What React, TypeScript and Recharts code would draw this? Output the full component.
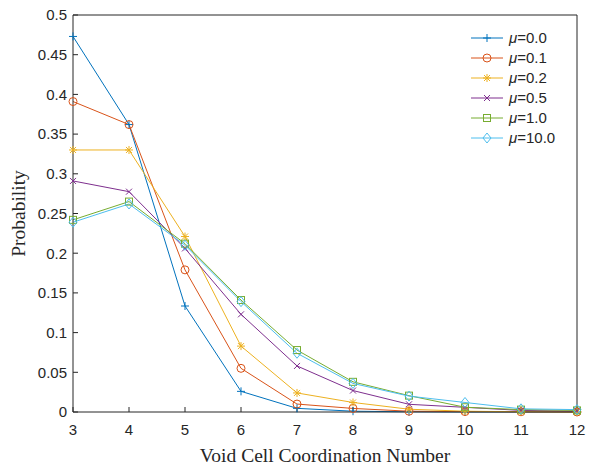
import React from "react";
import {
  LineChart,
  Line,
  XAxis,
  YAxis,
  Legend,
} from "recharts";

const coordNumbers = [3, 4, 5, 6, 7, 8, 9, 10, 11, 12];
const mu00 = [0.473, 0.362, 0.1335, 0.026, 0.0046, 0.001, 0.0003, 0, 0, 0];
const mu01 = [0.391, 0.362, 0.179, 0.055, 0.01, 0.0045, 0.001, 0.0005, 0.0003, 0];
const mu02 = [0.33, 0.33, 0.221, 0.083, 0.024, 0.012, 0.0035, 0.001, 0.0003, 0];
const mu05 = [0.291, 0.2775, 0.206, 0.123, 0.058, 0.027, 0.0097, 0.0059, 0.002, 0.001];
const mu10 = [0.242, 0.265, 0.212, 0.141, 0.078, 0.038, 0.0206, 0.006, 0.003, 0.002];
const mu100 = [0.239, 0.262, 0.21, 0.139, 0.074, 0.036, 0.02, 0.012, 0.004, 0.003];

const yTicks = [0, 0.05, 0.1, 0.15, 0.2, 0.25, 0.3, 0.35, 0.4, 0.45, 0.5];

const series = [
  { key: "m00", label: "0.0", values: mu00, color: "#0072BD", marker: "plus" },
  { key: "m01", label: "0.1", values: mu01, color: "#D95319", marker: "circle" },
  { key: "m02", label: "0.2", values: mu02, color: "#EDB120", marker: "star" },
  { key: "m05", label: "0.5", values: mu05, color: "#7E2F8E", marker: "cross" },
  { key: "m10", label: "1.0", values: mu10, color: "#77AC30", marker: "square" },
  { key: "m100", label: "10.0", values: mu100, color: "#4DBEEE", marker: "diamond" },
];

const data = coordNumbers.map((n, i) => {
  const row: Record<string, number> = { n };
  series.forEach((s) => (row[s.key] = s.values[i]));
  return row;
});

const axisColor = "#262626";
const tickFont = { fontSize: 15, fill: axisColor, fontFamily: "Liberation Sans, Arial, sans-serif" };
const serif = "Liberation Serif, Times New Roman, serif";

function Marker({ kind, cx, cy, color }: { kind: string; cx: number; cy: number; color: string }) {
  const s = 4;
  const p = { stroke: color, strokeWidth: 1, fill: "none" };
  if (kind === "plus")
    return (
      <g {...p}>
        <line x1={cx - s} y1={cy} x2={cx + s} y2={cy} />
        <line x1={cx} y1={cy - s} x2={cx} y2={cy + s} />
      </g>
    );
  if (kind === "circle") return <circle cx={cx} cy={cy} r={s} {...p} />;
  if (kind === "cross")
    return (
      <g {...p}>
        <line x1={cx - 3} y1={cy - 3} x2={cx + 3} y2={cy + 3} />
        <line x1={cx - 3} y1={cy + 3} x2={cx + 3} y2={cy - 3} />
      </g>
    );
  if (kind === "star")
    return (
      <g {...p}>
        <line x1={cx - s} y1={cy} x2={cx + s} y2={cy} />
        <line x1={cx} y1={cy - s} x2={cx} y2={cy + s} />
        <line x1={cx - 3} y1={cy - 3} x2={cx + 3} y2={cy + 3} />
        <line x1={cx - 3} y1={cy + 3} x2={cx + 3} y2={cy - 3} />
      </g>
    );
  if (kind === "square") return <rect x={cx - 3.5} y={cy - 3.5} width={7} height={7} {...p} />;
  return <polygon points={`${cx},${cy - 5} ${cx + 4},${cy} ${cx},${cy + 5} ${cx - 4},${cy}`} {...p} />;
}

function LegendBox() {
  return (
    <svg width={120} height={122}>
      {series.map((s, i) => {
        const y = 10 + i * 20;
        return (
          <g key={s.key}>
            <line x1={3} y1={y} x2={35} y2={y} stroke={s.color} strokeWidth={1} />
            <Marker kind={s.marker} cx={19} cy={y} color={s.color} />
            <text x={41} y={y + 5} fontSize={15} fill={axisColor} fontFamily="Liberation Sans, Arial, sans-serif">
              <tspan fontStyle="italic">μ</tspan>={s.label}
            </text>
          </g>
        );
      })}
    </svg>
  );
}

export default function App() {
  return (
    <div style={{ position: "absolute", left: 0, top: 0, width: 589, height: 468, background: "#fff" }}>
      <LineChart width={589} height={468} data={data} margin={{ top: 14, right: 11, left: 0, bottom: 0 }}>
        <XAxis
          dataKey="n"
          type="number"
          domain={[3, 12]}
          ticks={coordNumbers}
          height={56}
          tick={tickFont}
          tickSize={-5}
          tickMargin={17}
          stroke={axisColor}
          label={{
            value: "Void Cell Coordination Number",
            position: "insideBottom",
            offset: 6,
            style: { fontSize: 19.5, fill: axisColor, fontFamily: serif },
          }}
        />
        <XAxis
          xAxisId="top"
          dataKey="n"
          type="number"
          orientation="top"
          domain={[3, 12]}
          ticks={coordNumbers}
          height={1}
          tick={false}
          tickSize={-5}
          stroke={axisColor}
        />
        <YAxis
          type="number"
          domain={[0, 0.5]}
          ticks={yTicks}
          width={73}
          tick={tickFont}
          tickSize={-5}
          tickMargin={11}
          tickFormatter={(v: number) => String(Number(v.toFixed(2)))}
          stroke={axisColor}
          label={{
            value: "Probability",
            angle: -90,
            position: "insideLeft",
            offset: 18,
            style: { textAnchor: "middle", fontSize: 19.5, fill: axisColor, fontFamily: serif },
          }}
        />
        <YAxis
          yAxisId="right"
          orientation="right"
          type="number"
          domain={[0, 0.5]}
          ticks={yTicks}
          width={1}
          tick={false}
          tickSize={-5}
          stroke={axisColor}
        />
        <Legend
          layout="vertical"
          align="center"
          verticalAlign="middle"
          content={() => <LegendBox />}
          wrapperStyle={{ position: "absolute", left: 468, top: 28, width: 120 }}
        />
        {series.map((s) => (
          <Line
            key={s.key}
            dataKey={s.key}
            stroke={s.color}
            strokeWidth={1}
            isAnimationActive={false}
            dot={(props: any) => (
              <Marker key={`${s.key}-${props.index}`} kind={s.marker} cx={props.cx} cy={props.cy} color={s.color} />
            )}
            activeDot={false}
          />
        ))}
      </LineChart>
    </div>
  );
}
